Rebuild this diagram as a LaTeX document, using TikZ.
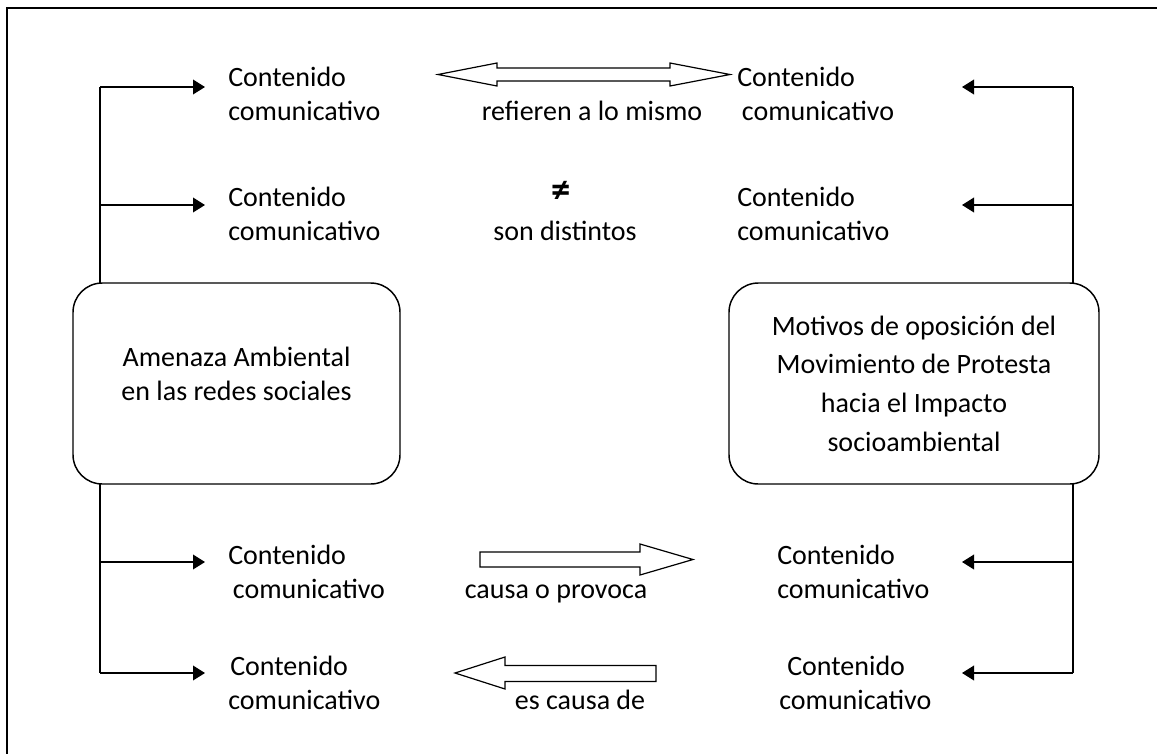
\documentclass[tikz,border=0pt]{standalone}
\usepackage{fontspec}
\setmainfont{Carlito}
\usetikzlibrary{arrows.meta}

\tikzset{
  contenido/.style={align=left, inner sep=0pt, anchor=base west, font=\fontsize{21}{25.5}\selectfont},
  relacion/.style={align=center, inner sep=0pt, anchor=base, font=\fontsize{21}{25.5}\selectfont},
  caja/.style={draw, line width=1.1pt, fill=white, rounded corners=22pt, inner sep=0pt, align=center},
  flecha/.style={-{Triangle[length=9pt,width=11pt]}, line width=1.1pt},
  bloque/.style={draw, line width=0.9pt, fill=white, line join=miter}
}

\begin{document}
\begin{tikzpicture}[x=0.75pt, y=-0.75pt]
    \useasboundingbox (0,0) rectangle (1157,754);

    % marco
    \draw[line width=1.1pt] (1157,8) -- (7,8) -- (7,754);

    % puntos de los troncos
    \coordinate (a1) at (100,87);
    \coordinate (a2) at (100,205);
    \coordinate (a3) at (100,562);
    \coordinate (a4) at (100,673);
    \coordinate (b1) at (1073,87);
    \coordinate (b2) at (1073,205);
    \coordinate (b3) at (1073,562);
    \coordinate (b4) at (1073,673);
    \coordinate (pI) at (205,0);
    \coordinate (pD) at (962,0);

    % troncos
    \draw[line width=1.1pt] (a1) -- (a4);
    \draw[line width=1.1pt] (b1) -- (b4);

    % cajas
    \node[caja, minimum width=245.25pt, minimum height=150.75pt] (amenaza) at (236.5,383.5) {};
    \node[align=center, inner sep=0pt, font=\fontsize{21}{25.5}\selectfont] (amenazaTxt) at ([yshift=7pt]amenaza.center)
        {Amenaza Ambiental\\en las redes sociales};
    \node[caja, minimum width=277.5pt, minimum height=150.75pt, font=\fontsize{21}{29}\selectfont] (motivos) at (914,383.5)
        {Motivos de oposición del\\Movimiento de Protesta\\hacia el Impacto\\socioambiental};

    % contenidos izquierda (base = segunda linea)
    \node[contenido] (ci1) at (228,120) {Contenido\\comunicativo};
    \node[contenido] (ci2) at (228,240) {Contenido\\comunicativo};
    \node[contenido] (ci3) at (228,598) {Contenido\\\hspace*{3.5pt}comunicativo};
    \node[contenido] (ci4) at (228,709) {\hspace*{1.5pt}Contenido\\comunicativo};

    % contenidos derecha
    \node[contenido] (cd1) at (737,120) {Contenido\\\hspace*{3.5pt}comunicativo};
    \node[contenido] (cd2) at (737,240) {Contenido\\comunicativo};
    \node[contenido] (cd3) at (777,598) {Contenido\\comunicativo};
    \node[contenido] (cd4) at (779,709) {\hspace*{6pt}Contenido\\comunicativo};

    % flechas
    \foreach \i in {1,...,4} {
        \draw[flecha] (a\i) -- (a\i -| pI);
        \draw[flecha] (b\i) -- (b\i -| pD);
    }

    % relaciones
    \draw[bloque] (438,74.5) -- (497,63) -- (497,68) -- (670,68) -- (670,63) -- (730,74.5)
        -- (670,86) -- (670,81) -- (497,81) -- (497,86) -- cycle;
    \node[relacion] (mismo) at (592,120) {refieren a lo mismo};
    \node[relacion, font=\fontsize{29}{30}\selectfont\bfseries] (distinto) at (561,202) {≠};
    \node[relacion] (distintos) at (565,240) {son distintos};
    \draw[bloque] (480,552) -- (640,552) -- (640,544) -- (693,559.5) -- (640,575) -- (640,567) -- (480,567) -- cycle;
    \node[relacion] (provoca) at (556,598) {causa o provoca};
    \draw[bloque] (455,673) -- (505,657) -- (505,665.5) -- (656,665.5) -- (656,681.5) -- (505,681.5) -- (505,689) -- cycle;
    \node[relacion] (causa) at (580,709) {es causa de};
\end{tikzpicture}
\end{document}
